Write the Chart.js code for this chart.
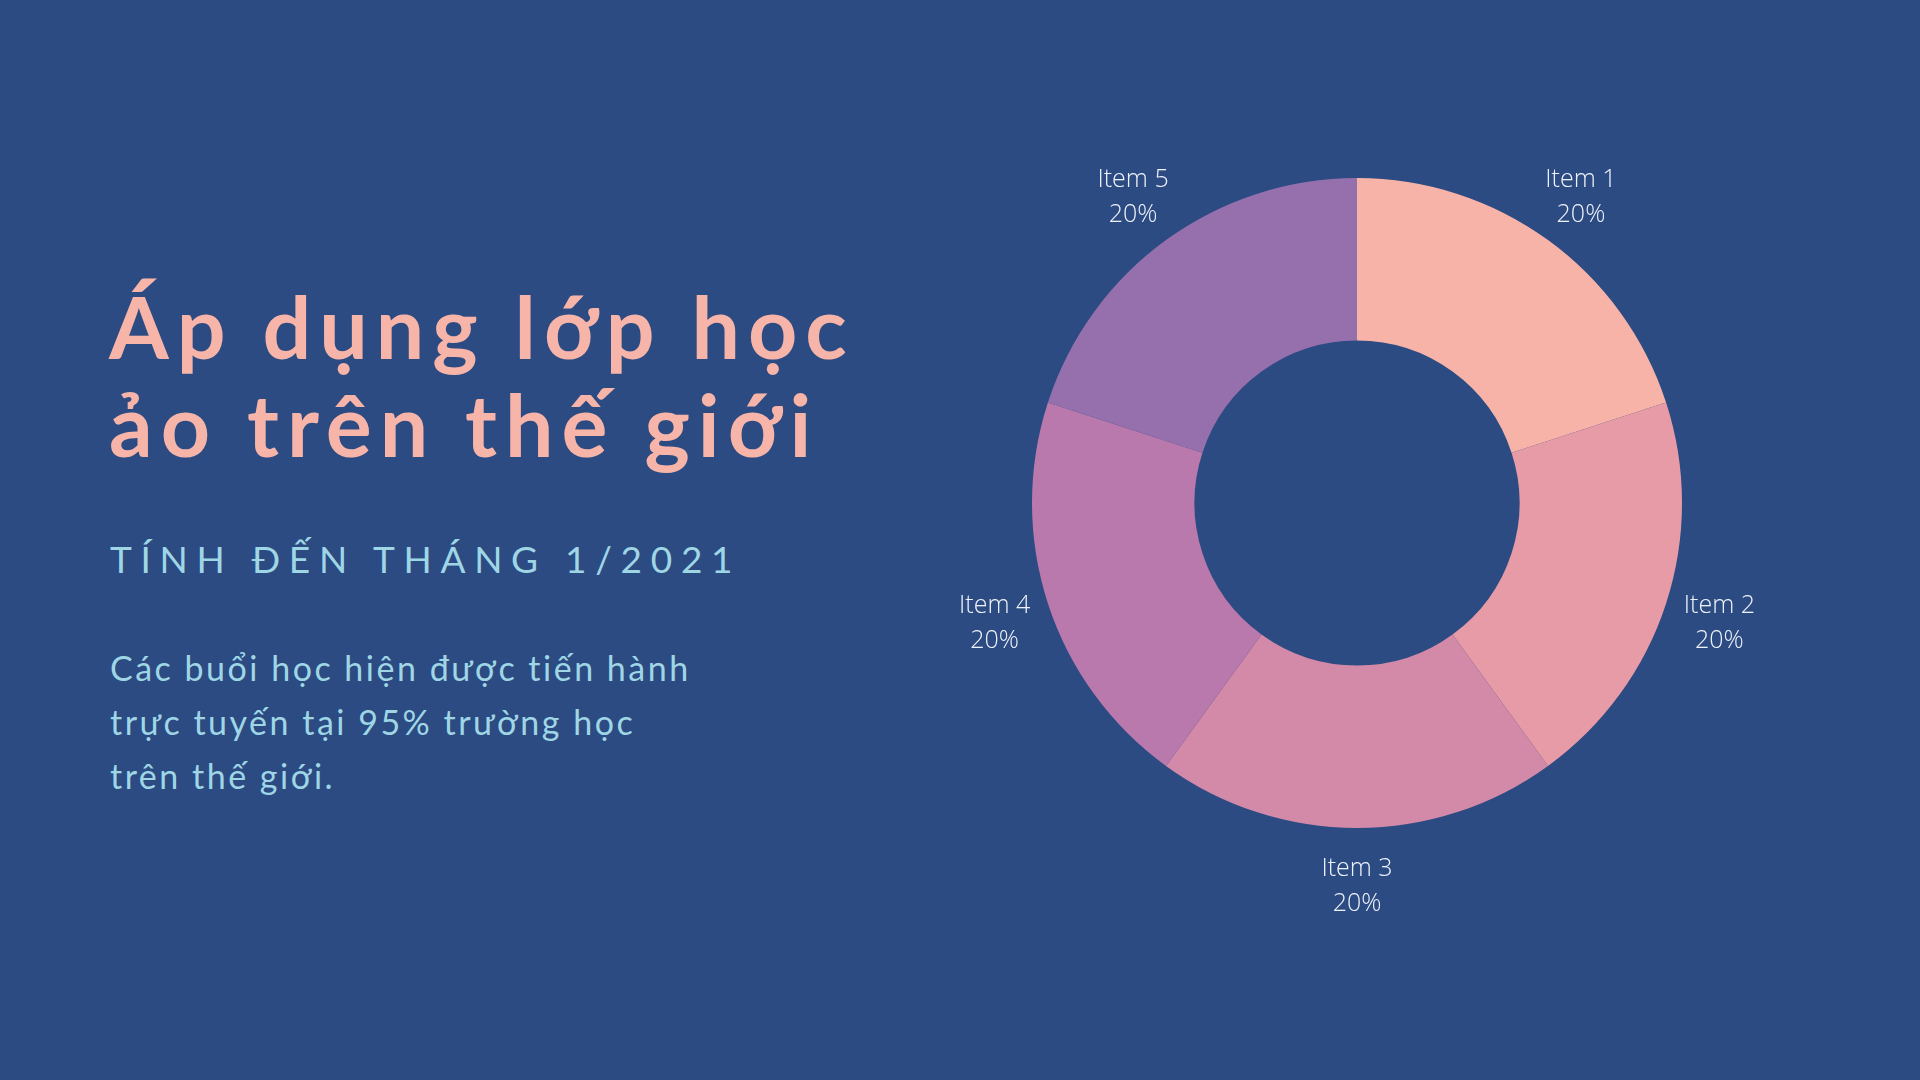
<!DOCTYPE html>
<html>
<head>
<meta charset="utf-8">
<script src="https://cdn.jsdelivr.net/npm/chart.js@4/dist/chart.umd.min.js"></script>
<style>
  html, body { margin:0; padding:0; }
  body { width:1920px; height:1080px; background:#2c4b82; position:relative; overflow:hidden; }
  .title { position:absolute; left:109px; top:277px; font-family:"Lato", sans-serif; font-weight:700; font-size:86px; line-height:98px; color:#f7b4a8; letter-spacing:8px; white-space:nowrap; }
  .sub { position:absolute; left:110px; top:536px; font-family:"Lato", sans-serif; font-weight:400; font-size:37px; color:#9fd6e6; letter-spacing:8.7px; white-space:nowrap; }
  .body { position:absolute; left:110px; top:641px; font-family:"Lato", sans-serif; font-weight:400; font-size:34px; line-height:54px; color:#9fd6e6; letter-spacing:2.5px; white-space:nowrap; }
  #wrap { position:absolute; left:907px; top:53px; width:900px; height:900px; }
</style>
</head>
<body>
<div class="title">Áp dụng lớp học<br>ảo trên thế giới</div>
<div class="sub">TÍNH ĐẾN THÁNG 1/2021</div>
<div class="body">Các buổi học hiện được tiến hành<br>trực tuyến tại 95% trường học<br>trên thế giới.</div>
<div id="wrap"><canvas id="c"></canvas></div>
<script>
const categories = ["Item 1", "Item 2", "Item 3", "Item 4", "Item 5"];
const values = [20, 20, 20, 20, 20];
const colors = ["#f7b3a7", "#e79ba6", "#d389a8", "#ba79ac", "#9670ad"];

const outerLabels = {
  id: "outerLabels",
  afterDatasetsDraw(chart) {
    const ctx = chart.ctx;
    const meta = chart.getDatasetMeta(0);
    const total = values.reduce((a, b) => a + b, 0);
    ctx.save();
    ctx.fillStyle = "#eef2fa";
    ctx.font = "300 25px 'Open Sans'";
    ctx.textAlign = "center";
    ctx.textBaseline = "middle";
    meta.data.forEach((arc, i) => {
      const p = arc.getProps(["x", "y", "startAngle", "endAngle", "outerRadius"], true);
      const mid = (p.startAngle + p.endAngle) / 2;
      const r = p.outerRadius + 56;
      const x = p.x + Math.cos(mid) * r;
      const y = p.y + Math.sin(mid) * r;
      ctx.fillText(categories[i], x, y - 15);
      ctx.fillText(Math.round(values[i] / total * 100) + "%", x, y + 20);
    });
    ctx.restore();
  }
};

new Chart(document.getElementById("c"), {
  type: "doughnut",
  data: {
    labels: categories,
    datasets: [{ data: values, backgroundColor: colors, borderWidth: 0 }]
  },
  options: {
    responsive: true,
    maintainAspectRatio: false,
    animation: false,
    cutout: "50%",
    layout: { padding: 125 },
    plugins: { legend: { display: false }, tooltip: { enabled: false } }
  },
  plugins: [outerLabels]
});
</script>
</body>
</html>
